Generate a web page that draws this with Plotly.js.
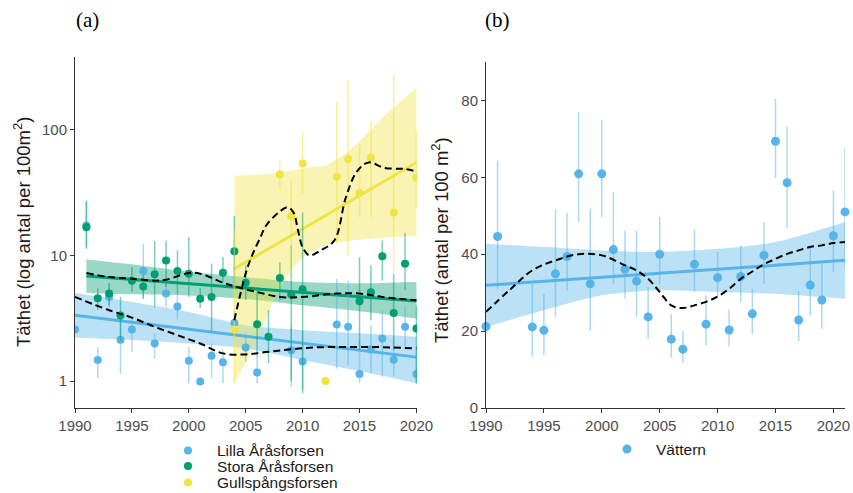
<!DOCTYPE html>
<html><head><meta charset="utf-8">
<script src="https://cdn.plot.ly/plotly-3.0.1.min.js"></script>
<style>html,body{margin:0;padding:0;background:#fff}#chart{width:853px;height:493px}</style>
</head><body><div id="chart"></div>
<script>
// ---------- data (panel a) ----------
const seriesNames = ['Lilla Åråsforsen', 'Stora Åråsforsen', 'Gullspångsforsen'];
const seriesColors = ['#56B4E9', '#009E73', '#F0E442'];

const lillaYears = [1990,1991,1992,1993,1994,1995,1996,1997,1998,1999,2000,2001,2002,2003,2004,2005,2006,2009,2010,2013,2014,2015,2016,2017,2018,2019,2020];
const lillaVals  = [2.57,17.3,1.47,4.67,2.13,2.57,7.5,1.99,4.97,3.92,1.45,0.99,1.59,1.41,2.9,1.85,1.17,1.76,1.43,2.82,2.7,1.14,1.78,2.18,1.48,2.7,1.14];
const lillaLo    = [2.57,11.6,1.05,3.6,1.14,1.71,4.67,1.51,3.88,3.1,0.96,0.99,1.05,0.96,2.3,1.42,0.96,0.9,0.85,1.26,1.34,0.96,1.15,1.08,1.08,1.76,0.96];
const lillaHi    = [2.57,27.3,1.87,6.0,3.05,3.23,12.4,2.39,6.3,5.0,1.87,0.99,1.99,1.76,3.6,2.39,1.56,2.7,2.5,6.5,6.3,2.1,2.78,3.66,2.25,4.0,1.87];

const storaYears = [1991,1992,1993,1994,1995,1996,1997,1998,1999,2000,2001,2002,2003,2004,2005,2006,2007,2008,2009,2010,2015,2016,2017,2018,2019,2020];
const storaVals  = [16.8,4.56,4.97,3.32,6.3,5.67,7.07,9.12,7.5,7.16,4.53,4.67,7.29,10.8,6.07,2.83,2.25,6.6,4.88,5.37,4.31,5.1,9.85,3.48,8.6,2.62];
const storaLo    = [11.3,3.7,4.0,2.1,5.1,4.5,3.9,5.6,4.97,4.67,3.8,2.5,6.0,5.5,4.4,1.56,1.39,4.39,1.0,0.8,1.76,3.05,6.3,1.76,5.3,0.96];
const storaHi    = [27,5.5,6.0,4.67,8.1,7.0,13,13.1,11,14,5.5,8.6,9.7,20.7,8.3,5.6,3.66,8.8,12,22,9.7,8.3,13.1,7.1,15,4.0];

const gullYears = [2004,2008,2009,2010,2012,2013,2014,2015,2016,2018,2020];
const gullVals  = [2.57,44,20.5,54,1.0,42.3,58.5,31.4,60.3,22,41.8];
const gullLo    = [0.96,33.7,6.3,30.9,1.0,12.4,10,20.1,20,7.2,24];
const gullHi    = [16,56.9,39,95,1.0,170,251,77,118,273,98];

// linear trends and confidence bands
const lillaFitYears = [1990, 2020];
const lillaFit      = [3.34, 1.55];
const lillaBandYears = [1990,1995,2000,2005,2010,2015,2020];
const lillaBandLo    = [2.22,2.12,1.99,1.82,1.47,1.2,0.96];
const lillaBandHi    = [5.02,4.26,3.55,2.78,2.54,2.4,2.25];

const storaFitYears = [1991, 2020];
const storaFit      = [6.85, 4.34];
const storaBandYears = [1991,1995,2000,2005,2010,2015,2020];
const storaBandLo    = [5.02,4.9,4.8,4.5,4.01,3.6,3.15];
const storaBandHi    = [9.3,8.5,7.4,6.7,6.14,6.0,6.14];

const gullFitYears = [2004, 2020];
const gullFit      = [7.84, 55];
const gullBandYears = [2004,2005,2006,2007,2008,2009,2010,2011,2012,2013,2014,2015,2016,2017,2018,2019,2020];
const gullBandLo    = [0.96,1.4,2.1,3.5,5.5,7.6,9.5,11,12,12.6,13,13.3,13.6,13.8,14,14.2,14.4];
const gullBandHi    = [43,43.5,44,44.7,46,47.5,49,51,52,58,67,81,100,125,150,180,217];

// smooth (dashed) curves
const lillaSmoothYears = [1990,1993,1995,1997,1999,2001,2003,2005,2007,2009,2011,2014,2017,2020];
const lillaSmooth      = [4.67,3.66,3.2,2.7,2.32,1.99,1.66,1.63,1.71,1.79,1.85,1.87,1.86,1.82];
const storaSmoothYears = [1991,1993,1995,1997,1998,2000,2001,2003,2004,2006,2008,2010,2013,2015,2017,2020];
const storaSmooth      = [7.24,6.73,6.53,6.3,6.4,7.24,7.16,6.07,5.67,5.11,4.67,4.67,4.97,4.97,4.67,4.39];
const gullSmoothYears  = [2004,2004.5,2005,2005.5,2006.3,2006.8,2007.9,2008.7,2009.2,2009.6,2010.0,2010.6,2011.6,2012.8,2013.8,2014.8,2015.8,2017.2,2018.9,2020];
const gullSmooth       = [3.05,4.8,7.2,9.7,14,17.3,22,24.2,22,15.8,11.6,10,11,13.2,29,47,55,49.7,48.8,46.7];

// ---------- data (panel b) ----------
const vatName = 'Vättern';
const vatColor = '#56B4E9';
const vatYears = [1990,1991,1994,1995,1996,1997,1998,1999,2000,2001,2002,2003,2004,2005,2006,2007,2008,2009,2010,2011,2012,2013,2014,2015,2016,2017,2018,2019,2020,2021];
const vatVals  = [21.2,44.6,21.1,20.2,34.9,39.4,60.9,32.3,60.9,41.2,36.1,33.0,23.7,40.0,17.9,15.3,37.4,21.8,33.9,20.3,34.2,24.5,39.7,69.4,58.6,22.9,32.0,28.1,44.8,51.0];
const vatLo    = [21.2,31,13.3,13.7,23.7,30.6,48.4,20.2,49.7,32.3,28.4,23.7,17.9,32.3,13.1,11.7,30.2,16.3,29.0,16.0,27.6,19.3,32.3,59.8,46.9,17.4,24.1,20.6,35.4,37];
const vatHi    = [21.2,64.4,32.3,29.7,51.6,50.7,77.0,51.8,74.8,56.2,46.2,46.2,31.5,49.7,24.4,20.0,46.4,29.3,40.7,25.6,42.3,31.0,48.4,80.4,73.2,30.4,42.3,37.5,56.6,67.7];
const vatFitYears = [1990, 2021];
const vatFit      = [31.9, 38.4];
const vatBandYears = [1990,1995,2000,2005,2010,2015,2021];
const vatBandLo    = [21.1,25.4,29.3,30.6,30.2,29.7,28.4];
const vatBandHi    = [42.7,41.9,41,40.6,41.4,43.2,48.4];
const vatSmoothYears = [1990,1992,1994,1996,1998,2000,2002,2003,2004,2005,2006,2007,2008,2009,2010,2011,2012,2013,2014,2015,2016,2017,2018,2019,2020,2021];
const vatSmooth      = [25,30.6,35.8,38.4,40,39.7,37.1,35.8,33.6,30.2,26.7,26.0,26.7,27.6,29.0,31.0,33.6,35.5,37.4,38.8,40.1,41,41.9,42.3,42.9,43.2];

const xTicks = [1990,1995,2000,2005,2010,2015,2020];
const yTicksA = [1,10,100];
const yTicksB = [0,20,40,60,80];

// ---------- helpers ----------
function rgba(hex, a){
  const r = parseInt(hex.slice(1,3),16), g = parseInt(hex.slice(3,5),16), b = parseInt(hex.slice(5,7),16);
  return `rgba(${r},${g},${b},${a})`;
}
function band(xs, lo, hi, color, xa, ya){
  return [
    {x: xs, y: lo, xaxis: xa, yaxis: ya, mode: 'lines', line: {width: 0, shape: 'spline', smoothing: 0.8}, hoverinfo: 'skip', showlegend: false},
    {x: xs, y: hi, xaxis: xa, yaxis: ya, mode: 'lines', line: {width: 0, shape: 'spline', smoothing: 0.8}, fill: 'tonexty', fillcolor: rgba(color, 0.4), hoverinfo: 'skip', showlegend: false}
  ];
}
function points(xs, v, lo, hi, color, xa, ya, size, clip){
  return {x: xs, y: v, xaxis: xa, yaxis: ya, mode: 'markers', type: 'scatter', showlegend: false, cliponaxis: clip,
    marker: {color: color, size: size},
    error_y: {type: 'data', symmetric: false, array: hi.map((h,i)=>h - v[i]), arrayminus: lo.map((l,i)=>v[i] - l),
      color: rgba(color, 0.5), thickness: 1.5, width: 0}};
}
function fit(xs, ys, color, xa, ya){
  return {x: xs, y: ys, xaxis: xa, yaxis: ya, mode: 'lines', line: {color: color, width: 3}, showlegend: false, hoverinfo: 'skip'};
}
function smooth(xs, ys, xa, ya){
  return {x: xs, y: ys, xaxis: xa, yaxis: ya, mode: 'lines', line: {color: '#000', width: 2, dash: '7px,4px', shape: 'spline', smoothing: 1}, showlegend: false, hoverinfo: 'skip'};
}

const traces = [
  ...band(lillaBandYears, lillaBandLo, lillaBandHi, seriesColors[0], 'x', 'y'),
  ...band(storaBandYears, storaBandLo, storaBandHi, seriesColors[1], 'x', 'y'),
  ...band(gullBandYears, gullBandLo, gullBandHi, seriesColors[2], 'x', 'y'),
  fit(lillaFitYears, lillaFit, seriesColors[0], 'x', 'y'),
  fit(storaFitYears, storaFit, seriesColors[1], 'x', 'y'),
  fit(gullFitYears, gullFit, seriesColors[2], 'x', 'y'),
  points(lillaYears, lillaVals, lillaLo, lillaHi, seriesColors[0], 'x', 'y', 8, true),
  points(storaYears, storaVals, storaLo, storaHi, seriesColors[1], 'x', 'y', 8, true),
  points(gullYears, gullVals, gullLo, gullHi, seriesColors[2], 'x', 'y', 8, true),
  smooth(lillaSmoothYears, lillaSmooth, 'x', 'y'),
  smooth(storaSmoothYears, storaSmooth, 'x', 'y'),
  smooth(gullSmoothYears, gullSmooth, 'x', 'y'),
  ...band(vatBandYears, vatBandLo, vatBandHi, vatColor, 'x2', 'y2'),
  fit(vatFitYears, vatFit, vatColor, 'x2', 'y2'),
  points(vatYears, vatVals, vatLo, vatHi, vatColor, 'x2', 'y2', 9, false),
  smooth(vatSmoothYears, vatSmooth, 'x2', 'y2')
];

const W = 853, H = 493;
const px = v => v / W, py = v => 1 - v / H;
const tickFont = {family: 'Liberation Sans, Arial, sans-serif', size: 15, color: '#4d4d4d'};
const axCommon = {showline: true, linecolor: '#333', linewidth: 1, ticks: 'outside', ticklen: 4, tickcolor: '#333',
  showgrid: false, zeroline: false, tickfont: tickFont, automargin: false, fixedrange: true};

const annotations = [
  {text: '(a)', x: px(87), y: py(20), xref: 'paper', yref: 'paper', showarrow: false, xanchor: 'center', yanchor: 'middle',
   font: {family: 'Liberation Serif, Times New Roman, serif', size: 21, color: '#000'}},
  {text: '(b)', x: px(497), y: py(20), xref: 'paper', yref: 'paper', showarrow: false, xanchor: 'center', yanchor: 'middle',
   font: {family: 'Liberation Serif, Times New Roman, serif', size: 21, color: '#000'}},
  {text: 'Täthet (log antal per 100m<sup>2</sup>)', x: px(22), y: py(232), xref: 'paper', yref: 'paper', showarrow: false,
   textangle: -90, xanchor: 'center', yanchor: 'middle', font: {family: 'Liberation Sans, Arial, sans-serif', size: 18.5, color: '#1a1a1a'}},
  {text: 'Täthet (antal per 100 m<sup>2</sup>)', x: px(440), y: py(240), xref: 'paper', yref: 'paper', showarrow: false,
   textangle: -90, xanchor: 'center', yanchor: 'middle', font: {family: 'Liberation Sans, Arial, sans-serif', size: 18.5, color: '#1a1a1a'}}
];
const shapes = [];
const legendRowsY = [450.5, 466, 482.5];
seriesNames.forEach((n, i) => {
  annotations.push({text: n, x: px(216), y: py(legendRowsY[i]), xref: 'paper', yref: 'paper', showarrow: false,
    xanchor: 'left', yanchor: 'middle', borderpad: 0, font: {family: 'Liberation Sans, Arial, sans-serif', size: 15.5, color: '#1a1a1a'}});
  shapes.push({type: 'circle', xref: 'paper', yref: 'paper', x0: px(184), x1: px(192), y0: py(legendRowsY[i] + 4), y1: py(legendRowsY[i] - 4),
    fillcolor: seriesColors[i], line: {width: 0}});
});
annotations.push({text: vatName, x: px(654), y: py(449), xref: 'paper', yref: 'paper', showarrow: false,
  xanchor: 'left', yanchor: 'middle', font: {family: 'Liberation Sans, Arial, sans-serif', size: 15.5, color: '#1a1a1a'}});
shapes.push({type: 'circle', xref: 'paper', yref: 'paper', x0: px(622.5), x1: px(631.5), y0: py(453.5), y1: py(444.5),
  fillcolor: vatColor, line: {width: 0}});

const layout = {
  width: W, height: H, margin: {l: 0, r: 0, t: 0, b: 0}, paper_bgcolor: '#fff', plot_bgcolor: '#fff',
  showlegend: false,
  xaxis: Object.assign({}, axCommon, {domain: [px(75), px(417)], range: [1990, 2020.05], tickvals: xTicks, anchor: 'y'}),
  yaxis: Object.assign({}, axCommon, {domain: [py(408), py(57)], type: 'log', range: [Math.log10(0.61), Math.log10(380)],
    tickvals: yTicksA, ticktext: yTicksA.map(String), anchor: 'x'}),
  xaxis2: Object.assign({}, axCommon, {domain: [px(486), px(845)], range: [1990, 2021], tickvals: xTicks, anchor: 'y2'}),
  yaxis2: Object.assign({}, axCommon, {domain: [py(408), py(62)], range: [0, 90], tickvals: yTicksB, anchor: 'x2'}),
  annotations: annotations, shapes: shapes
};

Plotly.newPlot('chart', traces, layout, {staticPlot: true, displayModeBar: false});
</script></body></html>
